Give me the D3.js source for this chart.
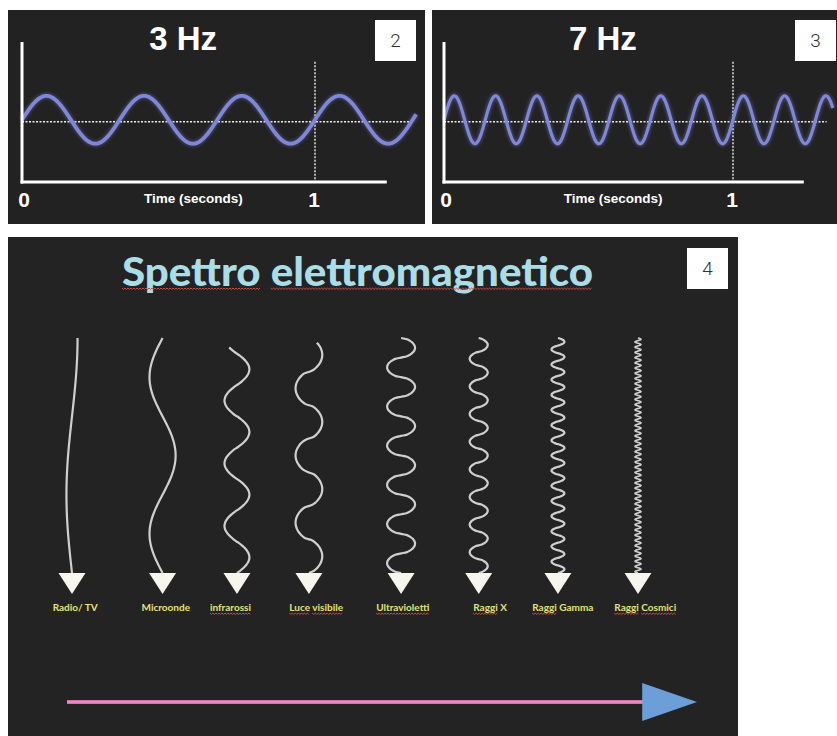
<!DOCTYPE html>
<html>
<head>
<meta charset="utf-8">
<script src="https://cdn.jsdelivr.net/npm/d3@7"></script>
<style>
  html, body { margin: 0; padding: 0; background: #fff; }
  svg { display: block; }
</style>
</head>
<body>
<div id="chart"></div>
<script>
// --- top slides: one sine wave each
const freqs = [3, 7];
const freqTitles = ['3 Hz', '7 Hz'];
const timeTicks = [0, 1];
const timeLabel = 'Time (seconds)';
const badges = ['2', '3', '4'];

// --- bottom slide: electromagnetic spectrum
const spectrumTitle = 'Spettro elettromagnetico';
const bandLabels = ['Radio/ TV', 'Microonde', 'infrarossi', 'Luce visibile', 'Ultravioletti', 'Raggi X', 'Raggi Gamma', 'Raggi Cosmici'];
const bandSlots = [0, 1.12, 2.04, 2.93, 4.07, 5.03, 6.01, 7];      // where each wave sits along the slide
const labelSlots = [0.04, 1.16, 1.96, 3.02, 4.09, 5.17, 6.07, 7.09];
const bandCycles = [0.75, 1.5, 3.75, 3.5, 6, 8.5, 15.5, 45];
const bandAmps = [0.37, 0.87, 0.83, 0.89, 0.93, 0.6, 0.43, 0.2];
const bandPhases = [0.5, 1, -0.5, 0, 0, 0, 0, 0];                  // in units of pi
const bandStarts = [0, 0, 0.04, 0.02, 0, 0, 0, 0];
const bandRound = [1, 1, 0.9, 0.6, 0.55, 0.65, 0.8, 1];            // <1 makes the loops rounder
// words the spell checker flagged
const misspelt = [[], [], ['infrarossi'], ['Luce', 'visibile'], ['Ultravioletti'], ['Raggi'], ['Raggi'], ['Raggi', 'Cosmici']];

const W = 837, H = 736;
const svg = d3.select('#chart').append('svg').attr('width', W).attr('height', H);
svg.append('rect').attr('width', W).attr('height', H).attr('fill', '#fff');

const defs = svg.append('defs');
defs.append('filter').attr('id', 'glow').attr('x', '-10%').attr('y', '-50%').attr('width', '120%').attr('height', '200%')
    .append('feGaussianBlur').attr('stdDeviation', 1.5);
defs.append('filter').attr('id', 'soft')
    .append('feGaussianBlur').attr('stdDeviation', 0.45);

function squiggle(g, x0, x1, y) {
    const pts = [];
    for (let x = x0, i = 0; x <= x1; x += 1.5, i++) pts.push([x, y + (i % 2 ? 0.9 : -0.4)]);
    g.append('path').attr('d', d3.line()(pts))
        .attr('fill', 'none').attr('stroke', '#c8504a').attr('stroke-width', 1);
}

function badge(x, y, txt) {
    svg.append('rect').attr('x', x).attr('y', y).attr('width', 41).attr('height', 41)
        .attr('fill', '#fff');
    svg.append('text').attr('x', x + 20.5).attr('y', y + 27).attr('text-anchor', 'middle')
        .attr('font-family', 'Roboto, "Noto Sans", sans-serif').attr('font-weight', 300)
        .attr('font-size', '19px').attr('fill', '#333').text(txt);
}

// ---------- frequency panels ----------
const panels = [
    { x: 8, y: 10, w: 417, h: 214, x0: 22, x1: 315, bx: 375 },
    { x: 432, y: 10, w: 405, h: 214, x0: 444, x1: 733, bx: 795 }
];
const tAxisEnd = 1.245, tDashEnd = 1.324, tWaveEnd = 1.347;

freqs.forEach((f, i) => {
    const p = panels[i];
    const g = svg.append('g');
    g.append('rect').attr('x', p.x).attr('y', p.y).attr('width', p.w).attr('height', p.h).attr('fill', '#222');

    const x = d3.scaleLinear().domain([0, 1]).range([p.x0, p.x1]);
    const y = d3.scaleLinear().domain([-2.6, 3.25]).range([182, 42]);

    // dotted guides
    g.append('line').attr('x1', x(0)).attr('x2', x(tDashEnd)).attr('y1', y(0) + 2).attr('y2', y(0) + 2)
        .attr('stroke', '#eee').attr('stroke-width', 1.4).attr('stroke-dasharray', '2,1.5');
    g.append('line').attr('x1', x(1)).attr('x2', x(1)).attr('y1', y(2.42)).attr('y2', y(-2.6))
        .attr('stroke', '#eee').attr('stroke-width', 1.4).attr('stroke-dasharray', '2,1.5');

    // the wave
    const ts = d3.range(0, tWaveEnd, 0.0015);
    const line = d3.line().x(t => x(t)).y(t => y(Math.sin(2 * Math.PI * f * t))).curve(d3.curveBasis);
    g.append('path').attr('d', line(ts)).attr('fill', 'none')
        .attr('stroke', '#8a92ea').attr('stroke-width', 6).attr('opacity', 0.3).attr('filter', 'url(#glow)');
    g.append('path').attr('d', line(ts)).attr('fill', 'none')
        .attr('stroke', '#7f87d8').attr('stroke-width', i === 0 ? 3.8 : 3.2);

    // axes
    g.append('line').attr('x1', x(0)).attr('x2', x(0)).attr('y1', y(3.25)).attr('y2', y(-2.6) + 1.5)
        .attr('stroke', '#fff').attr('stroke-width', 3);
    g.append('line').attr('x1', x(0) - 1.5).attr('x2', x(tAxisEnd)).attr('y1', y(-2.6)).attr('y2', y(-2.6))
        .attr('stroke', '#fff').attr('stroke-width', 3);

    g.append('text').attr('x', x(0.55)).attr('y', 50).attr('text-anchor', 'middle')
        .attr('font-family', '"Liberation Sans", Arial, sans-serif').attr('font-weight', 'bold')
        .attr('font-size', '33px').attr('fill', '#fff').text(freqTitles[i]);

    timeTicks.forEach(t => {
        g.append('text').attr('x', x(t) + (t === 0 ? 2 : -1)).attr('y', 207).attr('text-anchor', 'middle')
            .attr('font-family', '"Liberation Sans", Arial, sans-serif').attr('font-weight', 'bold')
            .attr('font-size', '21px').attr('fill', '#fff').text(t);
    });
    g.append('text').attr('x', x(0.585)).attr('y', 203).attr('text-anchor', 'middle')
        .attr('font-family', '"Liberation Sans", Arial, sans-serif').attr('font-weight', 'bold')
        .attr('font-size', '13.5px').attr('fill', '#fff').text(timeLabel);

    badge(p.bx, 20, badges[i]);
});

// ---------- spectrum panel ----------
const sp = { x: 8, y: 237, w: 730, h: 499 };
const sg = svg.append('g');
sg.append('rect').attr('x', sp.x).attr('y', sp.y).attr('width', sp.w).attr('height', sp.h).attr('fill', '#232323');

// title, stretched to the slide's width, with the spell-check squiggles
const titleX0 = 122, titleX1 = 593, titleY = 286;
const title = sg.append('text').attr('x', titleX0).attr('y', titleY)
    .attr('font-family', 'Lato, "Noto Sans", sans-serif').attr('font-weight', 900)
    .attr('font-size', '40px').attr('fill', '#abdde7').text(spectrumTitle);
const natural = title.node().getComputedTextLength();
const k = (titleX1 - titleX0) / natural;
const sp1 = title.node().getSubStringLength(0, 7) * k;
const sp2 = title.node().getSubStringLength(0, 8) * k;
title.attr('textLength', titleX1 - titleX0).attr('lengthAdjust', 'spacingAndGlyphs');
squiggle(sg, titleX0, titleX0 + sp1, titleY + 2.5);
squiggle(sg, titleX0 + sp2, titleX1, titleY + 2.5);

const xs = d3.scaleLinear().domain([0, 7]).range([72, 638]);
const ys = d3.scaleLinear().domain([0, 1]).range([338, 573]);
const amp = d3.scaleLinear().domain([0, 1]).range([0, 15]);

bandLabels.forEach((label, i) => {
    const cx = xs(bandSlots[i]);
    const n = Math.max(80, Math.round(bandCycles[i] * 30));
    const ts = d3.range(n + 1).map(j => bandStarts[i] + (1 - bandStarts[i]) * j / n);
    const wave = t => {
        const s = Math.sin(2 * Math.PI * bandCycles[i] * t + Math.PI * bandPhases[i]);
        return Math.sign(s) * Math.pow(Math.abs(s), bandRound[i]);
    };
    const line = d3.line()
        .x(t => cx + amp(bandAmps[i]) * wave(t))
        .y(t => ys(t))
        .curve(d3.curveCatmullRom);
    sg.append('path').attr('d', line(ts)).attr('fill', 'none')
        .attr('stroke', '#cfcfcf').attr('stroke-width', i === 7 ? 1.6 : 2.2).attr('filter', 'url(#soft)');

    // arrow head
    const top = ys(1);
    sg.append('path').attr('d', `M${cx - 13.5},${top} L${cx + 13.5},${top} L${cx},${top + 21} Z`)
        .attr('fill', '#f6f6ee');

    // label
    const lx = xs(labelSlots[i]);
    const t = sg.append('text').attr('x', lx).attr('y', 611).attr('text-anchor', 'middle')
        .attr('font-family', 'Lato, "Noto Sans", sans-serif').attr('font-weight', 'bold')
        .attr('font-size', '10px').attr('fill', '#e4e27a').text(label);
    const total = t.node().getComputedTextLength();
    misspelt[i].forEach(word => {
        const idx = label.indexOf(word);
        const a = idx > 0 ? t.node().getSubStringLength(0, idx) : 0;
        const b = a + t.node().getSubStringLength(idx, word.length);
        squiggle(sg, lx - total / 2 + a, lx - total / 2 + b, 613.5);
    });
});

// long arrow along the bottom
const ax = d3.scaleLinear().domain([0, 1]).range([67, 697]);
sg.append('line').attr('x1', ax(0)).attr('x2', ax(0.915)).attr('y1', 702).attr('y2', 702)
    .attr('stroke', '#d66fb0').attr('stroke-width', 4);
sg.append('line').attr('x1', ax(0)).attr('x2', ax(0.915)).attr('y1', 702).attr('y2', 702)
    .attr('stroke', '#f0a8d8').attr('stroke-width', 1.2);
sg.append('path').attr('d', `M${ax(0.913)},683 L${ax(0.913)},721 L${ax(1)},702 Z`)
    .attr('fill', '#6c9fd8');

badge(687, 248, badges[2]);
</script>
</body>
</html>
